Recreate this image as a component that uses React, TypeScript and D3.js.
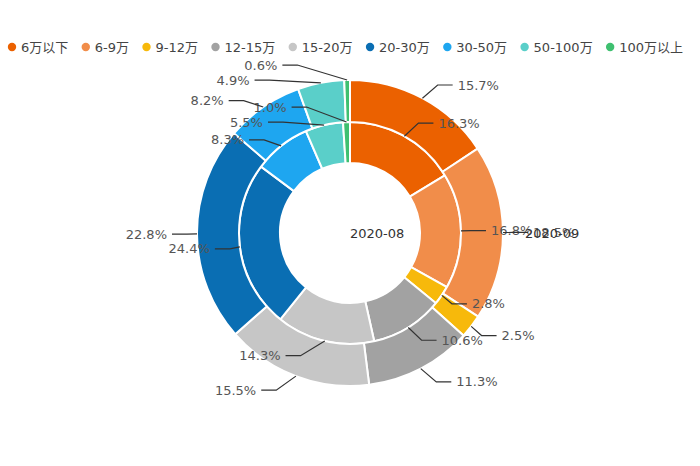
import React, { useMemo } from 'react';
import * as d3 from 'd3';

const categories = ['6万以下', '6-9万', '9-12万', '12-15万', '15-20万', '20-30万', '30-50万', '50-100万', '100万以上'];
const values2008 = [16.3, 16.8, 2.8, 10.6, 14.3, 24.4, 8.3, 5.5, 1.0];
const values2009 = [15.7, 18.5, 2.5, 11.3, 15.5, 22.8, 8.2, 4.9, 0.6];
const seriesNames = ['2020-08', '2020-09'];
const colors = ['#eb6100', '#f18d4a', '#f7b90b', '#a2a2a2', '#c6c6c6', '#0a6eb3', '#1ea6f0', '#5acfc9', '#3fc070'];

const W = 700;
const H = 466;
const cx = W / 2;
const cy = H / 2;
const FONT = '"DejaVu Sans", "Noto Sans CJK SC", sans-serif';
const FS = 13;

type Lbl = {
  i: number;
  x: number;
  y: number;
  height: number;
  len: number;
  len2: number;
  dist: number;
  pts: number[][];
  text: string;
};

function adjustSingleSide(list: Lbl[], r: number, dir: number) {
  list.sort((a, b) => a.y - b.y);
  const viewTop = 0;
  const viewHeight = H;
  function shiftUp(end: number, delta: number) {
    for (let j = end; j >= 0; j--) {
      if (list[j].y - delta < viewTop) break;
      list[j].y -= delta;
      if (j > 0 && list[j].y > list[j - 1].y + list[j - 1].height) break;
    }
  }
  function shiftDown(start: number, end: number, delta: number) {
    for (let j = start; j < end; j++) {
      if (list[j].y + delta > viewTop + viewHeight) break;
      list[j].y += delta;
      if (j > start && j + 1 < end && list[j + 1].y > list[j].y + list[j].height) {
        shiftUp(j, delta / 2);
        return;
      }
    }
    shiftUp(end - 1, delta / 2);
  }
  function changeX(l: Lbl[], isDown: boolean) {
    let lastDeltaX = isDown ? Number.MAX_VALUE : 0;
    for (let i = 0; i < l.length; i++) {
      const deltaY = Math.abs(l[i].y - cy);
      const R = r + l[i].len + l[i].len2;
      let deltaX = deltaY < r + l[i].len ? Math.sqrt(R * R - deltaY * deltaY) : Math.abs(l[i].x - cx);
      if (isDown && deltaX >= lastDeltaX) deltaX = lastDeltaX - 10;
      if (!isDown && deltaX <= lastDeltaX) deltaX = lastDeltaX + 10;
      l[i].x = cx + deltaX * dir;
      lastDeltaX = deltaX;
    }
  }
  let lastY = 0;
  const len = list.length;
  for (let i = 0; i < len; i++) {
    const delta = list[i].y - lastY;
    if (delta < 0) shiftDown(i, len, -delta);
    lastY = list[i].y + list[i].height;
  }
  if (viewTop + viewHeight - lastY < 0) shiftUp(len - 1, lastY - viewTop - viewHeight);
  const up: Lbl[] = [];
  const down: Lbl[] = [];
  list.forEach((d) => (d.y >= cy ? down : up).push(d));
  changeX(up, false);
  changeX(down, true);
}

function layoutLabels(arcs: d3.PieArcDatum<number>[], r: number): Lbl[] {
  const len = 15;
  const len2 = 15;
  const dist = 5;
  const list: Lbl[] = arcs.map((a, i) => {
    const mid = (a.startAngle + a.endAngle) / 2;
    const dx = Math.sin(mid);
    const dy = -Math.cos(mid);
    const x1 = cx + r * dx;
    const y1 = cy + r * dy;
    const x2 = cx + (r + len) * dx;
    const y2 = cy + (r + len) * dy;
    const s = dx < 0 ? -1 : 1;
    const x3 = x2 + s * len2;
    return {
      i,
      x: x3 + s * dist,
      y: y2,
      height: 15,
      len,
      len2,
      dist,
      pts: [[x1, y1], [x2, y2], [x3, y2]],
      text: a.data.toFixed(1) + '%',
    };
  });
  const left = list.filter((d) => d.x < cx);
  const right = list.filter((d) => d.x >= cx);
  adjustSingleSide(right, r, 1);
  adjustSingleSide(left, r, -1);
  list.forEach((d) => {
    const distX = d.pts[1][0] - d.pts[2][0];
    d.pts[2][0] = d.x < cx ? d.x + d.dist : d.x - d.dist;
    d.pts[1][0] = d.pts[2][0] + distX;
    d.pts[1][1] = d.y;
    d.pts[2][1] = d.y;
  });
  return list;
}

function measure(text: string): number {
  const c = document.createElement('canvas');
  const ctx = c.getContext('2d')!;
  ctx.font = `${FS}px ${FONT}`;
  return ctx.measureText(text).width;
}

export default function App() {
  const pie = d3.pie<number>().sort(null).value((d) => d);
  const rings = [
    { name: seriesNames[0], values: values2008, r0: 70, r: 111 },
    { name: seriesNames[1], values: values2009, r0: 111, r: 153 },
  ];
  const ringData = rings.map((ring) => {
    const arcs = pie(ring.values);
    const arcGen = d3.arc<d3.PieArcDatum<number>>().innerRadius(ring.r0).outerRadius(ring.r);
    const labels = layoutLabels(arcs, ring.r);
    return { ...ring, arcs, arcGen, labels };
  });

  const legend = useMemo(() => {
    let x = 8;
    return categories.map((c, i) => {
      const w = measure(c);
      const item = { c, i, mx: x + 4, tx: x + 13 };
      x = x + 13 + w + 13.5;
      return item;
    });
  }, []);

  const line = d3.line();

  return (
    <svg width={W} height={H} style={{ display: 'block', position: 'absolute', left: 0, top: 0 }} fontFamily={FONT}>
      <rect width={W} height={H} fill="#fff" />
      <g>
        {legend.map((it) => (
          <g key={it.c}>
            <circle cx={it.mx} cy={47} r={4.2} fill={colors[it.i]} />
            <text x={it.tx} y={47} dominantBaseline="central" fontSize={FS} fill="#444">
              {it.c}
            </text>
          </g>
        ))}
      </g>
      {ringData.map((ring) => (
        <g key={ring.name} transform={`translate(${cx},${cy})`}>
          {ring.arcs.map((a, i) => (
            <path key={i} d={ring.arcGen(a) || ''} fill={colors[i]} stroke="#fff" strokeWidth={2} strokeLinejoin="round" />
          ))}
        </g>
      ))}
      {ringData.map((ring) => (
        <g key={ring.name + '-labels'}>
          {ring.labels.map((l) => (
            <g key={l.i}>
              <path d={line(l.pts as [number, number][]) || ''} fill="none" stroke="#333" strokeWidth={1.2} />
              <text
                x={l.x}
                y={l.y}
                textAnchor={l.x < cx ? 'end' : 'start'}
                dominantBaseline="central"
                fontSize={FS}
                fill="#555"
              >
                {l.text}
              </text>
            </g>
          ))}
        </g>
      ))}
      <text x={W * 0.5} y={cy} dominantBaseline="central" fontSize={FS} fill="#333">
        {seriesNames[0]}
      </text>
      <text x={W * 0.75} y={cy} dominantBaseline="central" fontSize={FS} fill="#333">
        {seriesNames[1]}
      </text>
    </svg>
  );
}
